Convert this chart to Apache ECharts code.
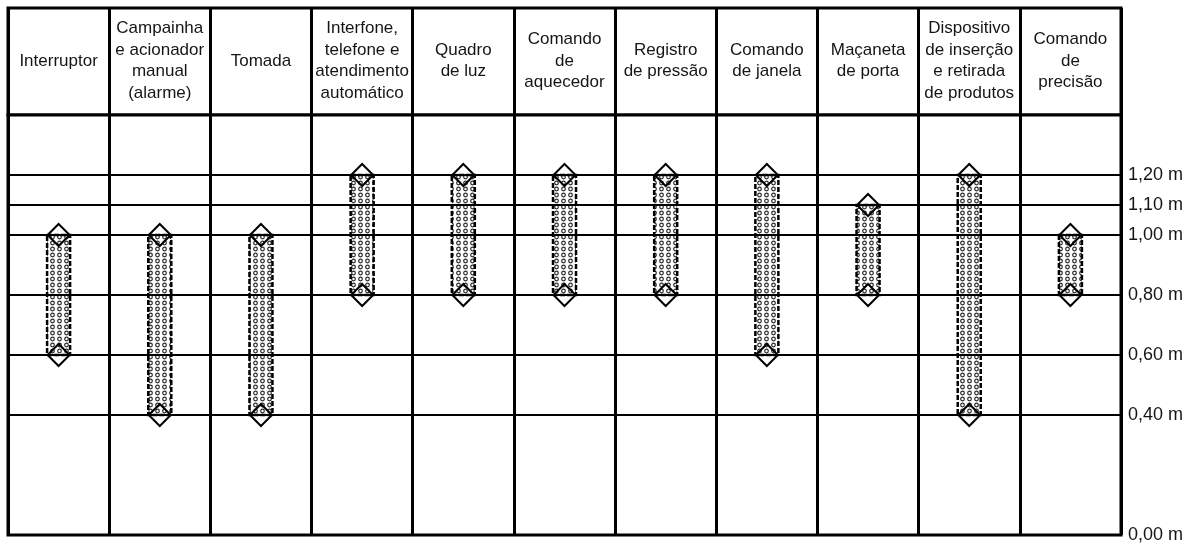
<!DOCTYPE html>
<html>
<head>
<meta charset="utf-8">
<script src="https://cdn.jsdelivr.net/npm/echarts@6/dist/echarts.min.js"></script>
<style>
  html, body { margin: 0; padding: 0; background: #fff; }
  #chart { width: 1195px; height: 543px; }
</style>
</head>
<body>
<div id="chart"></div>
<script>
// device columns (header text) and mounting height ranges, in metres
const categories = [
  'Interruptor',
  'Campainha\ne acionador\nmanual\n(alarme)',
  'Tomada',
  'Interfone,\ntelefone e\natendimento\nautomático',
  'Quadro\nde luz',
  'Comando\nde\naquecedor',
  'Registro\nde pressão',
  'Comando\nde janela',
  'Maçaneta\nde porta',
  'Dispositivo\nde inserção\ne retirada\nde produtos',
  'Comando\nde\nprecisão'
]
const lowValues = [0.6, 0.4, 0.4, 0.8, 0.8, 0.8, 0.8, 0.6, 0.8, 0.4, 0.8]
const highValues = [1.0, 1.0, 1.0, 1.2, 1.2, 1.2, 1.2, 1.2, 1.1, 1.2, 1.0]

// reference levels drawn across the table
const levelValues = [0, 0.4, 0.6, 0.8, 1.0, 1.1, 1.2]
const levelLabels = ['0,00 m', '0,40 m', '0,60 m', '0,80 m', '1,00 m', '1,10 m', '1,20 m']

const FONT = '"Liberation Sans", Arial, sans-serif'
const INK = '#151515'

// dotted fill used in the range bars
function makeDots() {
  const c = document.createElement('canvas')
  c.width = 7
  c.height = 6
  const ctx = c.getContext('2d')
  ctx.fillStyle = '#fff'
  ctx.fillRect(0, 0, 7, 6)
  ctx.strokeStyle = '#2a2a2a'
  ctx.lineWidth = 1.2
  ctx.beginPath()
  ctx.arc(3.5, 3, 1.8, 0, Math.PI * 2)
  ctx.stroke()
  return c
}
const dots = makeDots()

const rangeData = categories.map((_, i) => [i, lowValues[i], highValues[i]])
const endPoints = categories.map((_, i) => [i, lowValues[i]])
  .concat(categories.map((_, i) => [i, highValues[i]]))

const chart = echarts.init(document.getElementById('chart'))

chart.setOption({
  animation: false,
  backgroundColor: '#fff',
  textStyle: { fontFamily: FONT, color: INK },
  grid: [
    { left: 8, right: 74, top: 8, height: 107, show: true, borderColor: '#000', borderWidth: 3, backgroundColor: '#fff' },
    { left: 8, right: 74, top: 115, bottom: 8, show: true, borderColor: '#000', borderWidth: 3, backgroundColor: '#fff' }
  ],
  xAxis: [
    {
      gridIndex: 0,
      type: 'category',
      position: 'top',
      data: categories,
      axisLine: { show: false },
      axisTick: { show: false },
      axisLabel: {
        inside: true,
        interval: 0,
        margin: 53,
        verticalAlign: 'middle',
        align: 'center',
        fontFamily: FONT,
        fontSize: 17,
        lineHeight: 21.5,
        color: INK
      },
      splitLine: { show: true, interval: 0, lineStyle: { color: '#000', width: 3 } }
    },
    {
      gridIndex: 1,
      type: 'category',
      data: categories,
      axisLine: { show: false },
      axisTick: { show: false },
      axisLabel: { show: false },
      splitLine: { show: true, interval: 0, lineStyle: { color: '#000', width: 3 } }
    }
  ],
  yAxis: [
    { gridIndex: 0, type: 'value', show: false },
    {
      gridIndex: 1,
      type: 'value',
      min: 0,
      max: 1.4,
      axisLine: { show: false },
      axisTick: { show: false },
      axisLabel: { show: false },
      splitLine: { show: false }
    }
  ],
  series: [
    {
      type: 'custom',
      xAxisIndex: 1,
      yAxisIndex: 1,
      data: rangeData,
      encode: { x: 0, y: [1, 2] },
      z: 3,
      renderItem(params, api) {
        const x = api.value(0)
        const lo = api.coord([x, api.value(1)])
        const hi = api.coord([x, api.value(2)])
        return {
          type: 'rect',
          shape: { x: lo[0] - 11.5, y: hi[1], width: 23, height: lo[1] - hi[1] },
          style: {
            fill: { image: dots, repeat: 'repeat' },
            stroke: '#000',
            lineWidth: 2.5,
            lineDash: [5, 2]
          }
        }
      },
      markLine: {
        silent: true,
        symbol: 'none',
        lineStyle: { color: '#000', width: 2, type: 'solid' },
        label: {
          position: 'end',
          distance: 7,
          fontFamily: FONT,
          fontSize: 18,
          color: INK,
          formatter: (p) => levelLabels[levelValues.indexOf(p.value)]
        },
        data: levelValues.map((v) => ({ yAxis: v }))
      }
    },
    {
      type: 'scatter',
      xAxisIndex: 1,
      yAxisIndex: 1,
      data: endPoints,
      symbol: 'diamond',
      symbolSize: 22,
      z: 5,
      silent: true,
      itemStyle: { color: 'rgba(255,255,255,0)', borderColor: '#000', borderWidth: 2, opacity: 1 }
    }
  ]
})
</script>
</body>
</html>
